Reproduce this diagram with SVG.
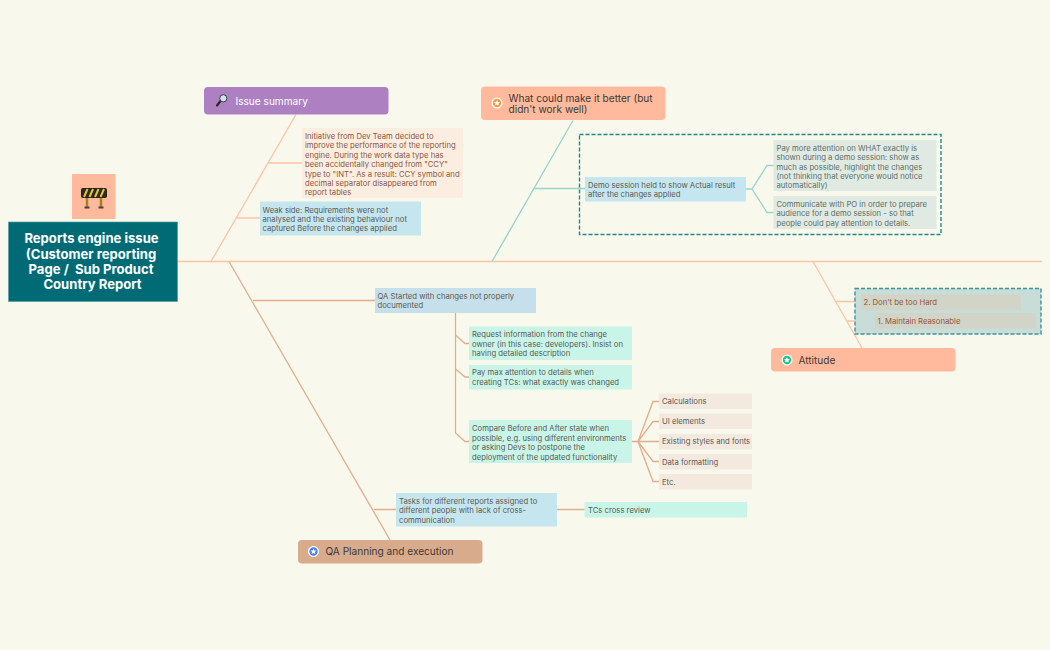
<svg xmlns="http://www.w3.org/2000/svg" width="1050" height="650" viewBox="0 0 1050 650">
<style>
text{font-family:"Inter","Liberation Sans",sans-serif}
.s{font-size:7.7px;fill:#5d5a55}
.r{fill:#8f5540}
.g{fill:#5f6f69}
.t{font-size:10.1px;fill:#3f3a36}
.w{fill:#fff}
.b{font-size:13.1px;font-weight:700;fill:#fff;text-anchor:middle}
.l{fill:none;stroke-width:1.3}
.p{stroke:#ffc3a6}
.q{stroke:#e2ad8c}
.m{stroke:#98d5cb}
.star{fill:#fff}
.d{stroke-width:1.4;stroke-dasharray:4 2}
</style>
<defs>
<path id="star" class="star" d="M0-3 .9-1 3-.9 1.4.5 1.9 2.6 0 1.5-1.9 2.6-1.4.5-3-.9-.9-1Z"/>
</defs>
<rect width="1050" height="650" fill="#f9f8ed"/>
<g id="connectors">
<path class="l p" d="M177 261.500H1042M211 261.500 296 114.500M268.500 163H302M236 218H260M813 261.500 862 348M836 301.500H861M847 321H875"/>
<path class="l q" d="M229 261.500 390 540M253 300.500H375M374 509.500H396M455.500 313V433L465 441.500H469M455.500 335 465 343.500H469M455.500 369 465 377H469M632 441.500H638L653 401.500H659M638 441.500 653 421.500H659M638 441.500H659M638 441.500 653 461.500H659M638 441.500 653 481.500H659M557 509.500H585"/>
<path class="l m" d="M573 120.500 492 261.500M534 188.500H585M746 189H752L767 165.500H774M752 189 767 212.500H774"/>
</g>
<g id="root">
<rect x="8.500" y="222" width="169" height="79.500" fill="#006b75" stroke="#4f9ea3" stroke-width=".6"/>
<text class="b" x="91.500" y="243">Reports engine issue</text>
<text class="b" x="91" y="258.500">(Customer reporting</text>
<text class="b" x="91" y="273.500" xml:space="preserve">Page /  Sub Product</text>
<text class="b" x="92.500" y="288.500">Country Report</text>
</g>
<g id="root-icon">
<rect x="72" y="174" width="43.500" height="45" fill="#ffb99c"/>
<path d="M87 197V207M101 197V207" stroke="#a8801f" stroke-width="2.500"/>
<path d="M84.500 207.500H89.500M98.500 207.500H103.500" stroke="#444" stroke-width="2"/>
<rect x="81.500" y="188.500" width="25" height="9" rx="1" fill="#2a2a26" stroke="#222" stroke-width="1"/>
<path d="M84 197 87.500 189M89.500 197 93 189M95 197 98.500 189M100.500 197 104 189" stroke="#eec21f" stroke-width="2"/>
</g>
<g id="issue-summary">
<rect x="204" y="87" width="184.500" height="27.500" rx="4" fill="#ad80c2"/>
<path d="M220.500 101 217 105.500" stroke="#2a2a2a" stroke-width="2.200" stroke-linecap="round"/>
<circle cx="223.300" cy="98.300" r="3.600" fill="#cfe0f2" stroke="#3d3d44" stroke-width="1"/>
<text class="t w" x="235.500" y="104.500">Issue summary</text>
</g>
<g id="initiative">
<rect x="302" y="128" width="161" height="70" fill="#fbeee1"/>
<text class="s r"><tspan x="305" y="139">Initiative from Dev Team decided to</tspan><tspan x="305" y="148.400">improve the performance of the reporting</tspan><tspan x="305" y="157.800">engine. During the work data type has</tspan><tspan x="305" y="167.200">been accidentally changed from "CCY"</tspan><tspan x="305" y="176.600">type to "INT". As a result: CCY symbol and</tspan><tspan x="305" y="186">decimal separator disappeared from</tspan><tspan x="305" y="195.400">report tables</tspan></text>
</g>
<g id="weak-side">
<rect x="260" y="201.500" width="161" height="34" fill="#c5e6ee"/>
<text class="s"><tspan x="262.500" y="212.500">Weak side: Requirements were not</tspan><tspan x="262.500" y="221.900">analysed and the existing behaviour not</tspan><tspan x="262.500" y="231.300">captured Before the changes applied</tspan></text>
</g>
<g id="better">
<rect x="481" y="86.500" width="184.500" height="33.500" rx="4" fill="#ffb99c"/>
<circle cx="497" cy="103" r="5.500" fill="#fff"/><circle cx="497" cy="103" r="4.200" fill="#f59a3c"/><use href="#star" x="497" y="103"/>
<text class="t"><tspan x="508.500" y="101.500">What could make it better (but</tspan><tspan x="508.500" y="112.800">didn't work well)</tspan></text>
</g>
<g id="dashed-demo">
<rect class="d" x="579.500" y="134.500" width="361.500" height="100" fill="none" stroke="#1d8a8e"/>
</g>
<g id="demo">
<rect x="585" y="177" width="161" height="24.500" fill="#c5e6ee"/>
<text class="s"><tspan x="588" y="187.500">Demo session held to show Actual result</tspan><tspan x="588" y="197">after the changes applied</tspan></text>
</g>
<g id="pay-more">
<rect x="773.500" y="140" width="163" height="51" fill="#e0eae2"/>
<text class="s g"><tspan x="776.500" y="150.500">Pay more attention on WHAT exactly is</tspan><tspan x="776.500" y="160">shown during a demo session: show as</tspan><tspan x="776.500" y="169.500">much as possible, highlight the changes</tspan><tspan x="776.500" y="178.900">(not thinking that everyone would notice</tspan><tspan x="776.500" y="188.300">automatically)</tspan></text>
</g>
<g id="communicate">
<rect x="773.500" y="196" width="163" height="33" fill="#e0eae2"/>
<text class="s g"><tspan x="776.500" y="206.500">Communicate with PO in order to prepare</tspan><tspan x="776.500" y="216">audience for a demo session - so that</tspan><tspan x="776.500" y="225.500">people could pay attention to details.</tspan></text>
</g>
<g id="attitude-group">
<rect class="d" x="855" y="288.500" width="186" height="45.500" fill="#c8dcd8" stroke="#3d9499"/>
</g>
<g id="dont-hard">
<rect x="861" y="294.500" width="160" height="15.500" fill="#d2d4c8"/>
<text class="s r" x="863.500" y="304.500">2. Don't be too Hard</text>
</g>
<g id="maintain">
<rect x="875" y="313" width="161" height="15.500" fill="#d2d4c8"/>
<text class="s r" x="877.500" y="323.500">1. Maintain Reasonable</text>
</g>
<g id="attitude">
<rect x="771" y="348" width="184.500" height="23.500" rx="4" fill="#ffb99c"/>
<circle cx="787" cy="360" r="5.500" fill="#fff"/><circle cx="787" cy="360" r="4.200" fill="#1fc08a"/><use href="#star" x="787" y="360"/>
<text class="t" x="798.500" y="363.500">Attitude</text>
</g>
<g id="qa-started">
<rect x="375" y="288" width="161" height="25" fill="#c5e0ea"/>
<text class="s"><tspan x="377.500" y="298.500">QA Started with changes not properly</tspan><tspan x="377.500" y="308">documented</tspan></text>
</g>
<g id="request">
<rect x="469" y="326.500" width="163" height="33.500" fill="#c8f5e8"/>
<text class="s"><tspan x="472" y="337">Request information from the change</tspan><tspan x="472" y="346.500">owner (in this case: developers). Insist on</tspan><tspan x="472" y="356">having detailed description</tspan></text>
</g>
<g id="pay-max">
<rect x="469" y="365" width="163" height="24.500" fill="#c8f5e8"/>
<text class="s"><tspan x="472" y="375">Pay max attention to details when</tspan><tspan x="472" y="384.500">creating TCs: what exactly was changed</tspan></text>
</g>
<g id="compare">
<rect x="469" y="420" width="163" height="43" fill="#c8f5e8"/>
<text class="s"><tspan x="472" y="431">Compare Before and After state when</tspan><tspan x="472" y="440.500">possible, e.g. using different environments</tspan><tspan x="472" y="450">or asking Devs to postpone the</tspan><tspan x="472" y="459.500">deployment of the updated functionality</tspan></text>
</g>
<g id="calculations"><rect x="659" y="393.500" width="93" height="15.500" fill="#f3e9de"/><text class="s" x="662" y="404">Calculations</text></g>
<g id="ui-elements"><rect x="659" y="413.500" width="93" height="15.500" fill="#f3e9de"/><text class="s" x="662" y="424">UI elements</text></g>
<g id="styles"><rect x="659" y="434" width="93" height="15.500" fill="#f3e9de"/><text class="s" x="662" y="444">Existing styles and fonts</text></g>
<g id="data-formatting"><rect x="659" y="454" width="93" height="15.500" fill="#f3e9de"/><text class="s" x="662" y="464.500">Data formatting</text></g>
<g id="etc"><rect x="659" y="474" width="93" height="15.500" fill="#f3e9de"/><text class="s" x="662" y="484.500">Etc.</text></g>
<g id="tasks">
<rect x="396" y="493" width="161" height="33.500" fill="#c5e6ee"/>
<text class="s"><tspan x="399" y="503.500">Tasks for different reports assigned to</tspan><tspan x="399" y="513">different people with lack of cross-</tspan><tspan x="399" y="522.500">communication</tspan></text>
</g>
<g id="cross-review">
<rect x="584.500" y="502" width="162.500" height="15.500" fill="#c8f5e8"/>
<text class="s" x="588" y="512.500">TCs cross review</text>
</g>
<g id="qa-planning">
<rect x="298" y="540" width="184.500" height="23.500" rx="4" fill="#d8ab8d"/>
<circle cx="313.500" cy="551.500" r="5.500" fill="#fff"/><circle cx="313.500" cy="551.500" r="4.200" fill="#4a7df0"/><use href="#star" x="313.500" y="551.500"/>
<text class="t" x="325.500" y="555">QA Planning and execution</text>
</g>
</svg>
